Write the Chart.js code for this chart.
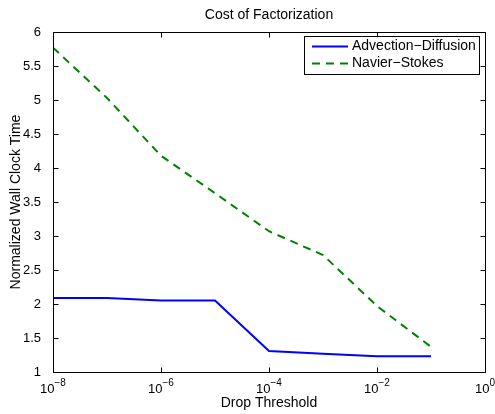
<!DOCTYPE html>
<html>
<head>
<meta charset="utf-8">
<script src="https://cdn.jsdelivr.net/npm/chart.js@4.4.1/dist/chart.umd.min.js"></script>
<style>
  html, body { margin: 0; padding: 0; background: #ffffff; }
  #wrap { width: 495px; height: 414px; }
</style>
</head>
<body>
<div id="wrap"><canvas id="c" width="495" height="414"></canvas></div>
<script>
// Drop thresholds (x) and normalized wall clock time for each problem
const thresholds = [1e-8, 1e-7, 1e-6, 1e-5, 1e-4, 1e-3, 1e-2, 1e-1];
const advectionDiffusion = [2.09, 2.09, 2.05, 2.05, 1.31, 1.27, 1.23, 1.23];
const navierStokes = [5.77, 5.03, 4.18, 3.63, 3.07, 2.72, 1.97, 1.37];

// Tick positions
const xTickExponents = [-8, -6, -4, -2, 0];
const yTickValues = [1, 1.5, 2, 2.5, 3, 3.5, 4, 4.5, 5, 5.5, 6];

const FONT = '"Liberation Sans", Arial, Helvetica, sans-serif';
const TICK_SIZE = 13;
const TEXT_SIZE = 14;

function pts(ys) { return thresholds.map((x, i) => ({ x: x, y: ys[i] })); }

// Box, inward ticks, superscript x labels, titles and legend
const matlabAxes = {
  id: 'matlabAxes',
  afterDatasetsDraw(chart) {
    const ctx = chart.ctx;
    const a = chart.chartArea;
    const xs = chart.scales.x, ys = chart.scales.y;
    const L = Math.round(a.left) + 0.5, R = Math.round(a.right) + 0.5;
    const T = Math.round(a.top) + 0.5, B = Math.round(a.bottom) + 0.5;
    const tick = 5;
    ctx.save();
    ctx.strokeStyle = '#000';
    ctx.lineWidth = 1;
    ctx.beginPath();
    ctx.rect(L, T, R - L, B - T);
    ctx.stroke();
    ctx.beginPath();
    xTickExponents.forEach(e => {
      const px = Math.round(xs.getPixelForValue(Math.pow(10, e))) + 0.5;
      ctx.moveTo(px, B); ctx.lineTo(px, B - tick);
      ctx.moveTo(px, T); ctx.lineTo(px, T + tick);
    });
    yTickValues.forEach(v => {
      const py = Math.round(ys.getPixelForValue(v)) + 0.5;
      ctx.moveTo(L, py); ctx.lineTo(L + tick, py);
      ctx.moveTo(R, py); ctx.lineTo(R - tick, py);
    });
    ctx.stroke();

    // x tick labels: 10 with a raised exponent
    ctx.fillStyle = '#000';
    ctx.textBaseline = 'alphabetic';
    xTickExponents.forEach(e => {
      const px = xs.getPixelForValue(Math.pow(10, e));
      const base = '10';
      const exp = e === 0 ? '0' : '\u2212' + Math.abs(e);
      ctx.font = TICK_SIZE + 'px ' + FONT;
      const wb = ctx.measureText(base).width;
      ctx.font = (TICK_SIZE - 3) + 'px ' + FONT;
      const we = ctx.measureText(exp).width;
      const x0 = px - (wb + we) / 2;
      ctx.font = TICK_SIZE + 'px ' + FONT;
      ctx.textAlign = 'left';
      ctx.fillText(base, x0, B + 20);
      ctx.font = (TICK_SIZE - 3) + 'px ' + FONT;
      ctx.fillText(exp, x0 + wb, B + 13);
    });

    // titles
    ctx.font = TEXT_SIZE + 'px ' + FONT;
    ctx.textAlign = 'center';
    ctx.textBaseline = 'middle';
    ctx.fillText('Cost of Factorization', (a.left + a.right) / 2, 15);
    ctx.fillText('Drop Threshold', (a.left + a.right) / 2, 403);
    ctx.save();
    ctx.translate(16, (a.top + a.bottom) / 2);
    ctx.rotate(-Math.PI / 2);
    ctx.fillText('Normalized Wall Clock Time', 0, 0);
    ctx.restore();

    // legend
    const lx = 304.5, ly = 36.5, lw = 175, lh = 38;
    ctx.fillStyle = '#fff';
    ctx.fillRect(lx, ly, lw, lh);
    ctx.strokeStyle = '#000';
    ctx.lineWidth = 1;
    ctx.strokeRect(lx, ly, lw, lh);
    chart.data.datasets.forEach((ds, i) => {
      const yy = 46.5 + i * 17;
      ctx.strokeStyle = ds.borderColor;
      ctx.lineWidth = ds.borderWidth;
      ctx.setLineDash(ds.borderDash || []);
      ctx.beginPath();
      ctx.moveTo(312, yy); ctx.lineTo(348, yy);
      ctx.stroke();
      ctx.setLineDash([]);
      ctx.fillStyle = '#000';
      ctx.font = TEXT_SIZE + 'px ' + FONT;
      ctx.textAlign = 'left';
      ctx.textBaseline = 'middle';
      ctx.fillText(ds.label, 352, yy);
    });
    ctx.restore();
  }
};

new Chart(document.getElementById('c'), {
  type: 'line',
  data: {
    datasets: [
      {
        label: 'Advection\u2212Diffusion',
        data: pts(advectionDiffusion),
        borderColor: '#0000ff',
        borderWidth: 2,
        pointRadius: 0,
        tension: 0,
        fill: false
      },
      {
        label: 'Navier\u2212Stokes',
        data: pts(navierStokes),
        borderColor: '#008000',
        borderWidth: 2,
        borderDash: [8, 6],
        pointRadius: 0,
        tension: 0,
        fill: false
      }
    ]
  },
  options: {
    responsive: false,
    animation: false,
    devicePixelRatio: 1,
    layout: { padding: { left: 0, right: 10, top: 32, bottom: 0 } },
    plugins: {
      legend: { display: false },
      title: { display: false },
      tooltip: { enabled: false }
    },
    scales: {
      x: {
        type: 'logarithmic',
        min: 1e-8,
        max: 1,
        grid: { display: false },
        border: { display: false },
        ticks: { display: false },
        afterFit(scale) { scale.height = 42; }
      },
      y: {
        type: 'linear',
        min: 1,
        max: 6,
        grid: { display: false },
        border: { display: false },
        afterBuildTicks(scale) { scale.ticks = yTickValues.map(v => ({ value: v })); },
        ticks: {
          color: '#000',
          padding: 4,
          font: { family: FONT, size: TICK_SIZE },
          callback: v => String(v)
        },
        afterFit(scale) { scale.width = 53; }
      }
    }
  },
  plugins: [matlabAxes]
});
</script>
</body>
</html>
